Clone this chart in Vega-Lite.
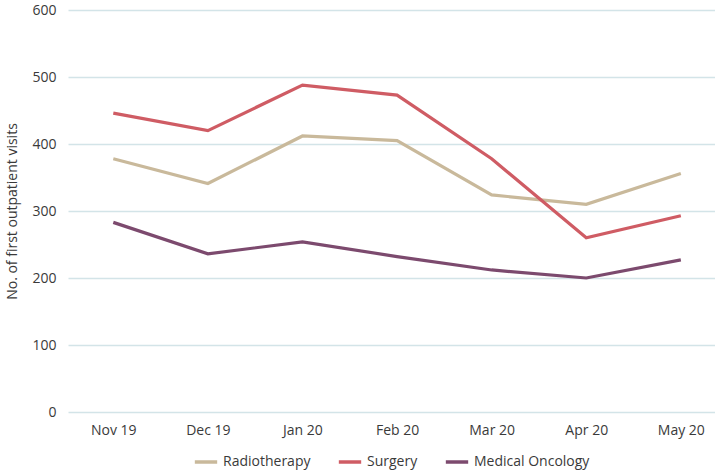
{
  "$schema": "https://vega.github.io/schema/vega-lite/v6.json",
  "width": 715,
  "height": 475,
  "autosize": {"type": "fit", "contains": "padding"},
  "padding": {"left": 5, "top": 3, "right": 0, "bottom": 6},
  "background": "white",
  "config": {
    "font": "Open Sans",
    "view": {"stroke": null},
    "legend": {"layout": {"bottom": {"anchor": "middle"}}}
  },
  "data": {
    "values": [
      {"month": "Nov 19", "series": "Radiotherapy", "value": 378},
      {"month": "Dec 19", "series": "Radiotherapy", "value": 341},
      {"month": "Jan 20", "series": "Radiotherapy", "value": 412},
      {"month": "Feb 20", "series": "Radiotherapy", "value": 405},
      {"month": "Mar 20", "series": "Radiotherapy", "value": 324},
      {"month": "Apr 20", "series": "Radiotherapy", "value": 310},
      {"month": "May 20", "series": "Radiotherapy", "value": 356},
      {"month": "Nov 19", "series": "Surgery", "value": 446},
      {"month": "Dec 19", "series": "Surgery", "value": 420},
      {"month": "Jan 20", "series": "Surgery", "value": 488},
      {"month": "Feb 20", "series": "Surgery", "value": 473},
      {"month": "Mar 20", "series": "Surgery", "value": 378},
      {"month": "Apr 20", "series": "Surgery", "value": 260},
      {"month": "May 20", "series": "Surgery", "value": 293},
      {"month": "Nov 19", "series": "Medical Oncology", "value": 283},
      {"month": "Dec 19", "series": "Medical Oncology", "value": 236},
      {"month": "Jan 20", "series": "Medical Oncology", "value": 254},
      {"month": "Feb 20", "series": "Medical Oncology", "value": 232},
      {"month": "Mar 20", "series": "Medical Oncology", "value": 212},
      {"month": "Apr 20", "series": "Medical Oncology", "value": 200},
      {"month": "May 20", "series": "Medical Oncology", "value": 227}
    ]
  },
  "mark": {"type": "line", "strokeWidth": 3.2},
  "encoding": {
    "x": {
      "field": "month",
      "type": "ordinal",
      "sort": ["Nov 19", "Dec 19", "Jan 20", "Feb 20", "Mar 20", "Apr 20", "May 20"],
      "scale": {"type": "point", "padding": 0.42, "align": 0.57},
      "axis": {
        "title": null,
        "labelAngle": 0,
        "domain": false,
        "ticks": false,
        "grid": false,
        "labelFontSize": 14,
        "labelColor": "#3a3a3a",
        "labelPadding": 11
      }
    },
    "y": {
      "field": "value",
      "type": "quantitative",
      "scale": {"domain": [0, 600]},
      "axis": {
        "title": "No. of first outpatient visits",
        "titleFontSize": 14,
        "titleFontWeight": "normal",
        "titleColor": "#3a3a3a",
        "titlePadding": 12,
        "values": [0, 100, 200, 300, 400, 500, 600],
        "domain": false,
        "ticks": false,
        "labelFontSize": 14,
        "labelColor": "#3a3a3a",
        "labelPadding": 12,
        "gridColor": "#d3e4e8",
        "gridWidth": 1.3
      }
    },
    "color": {
      "field": "series",
      "type": "nominal",
      "sort": ["Radiotherapy", "Surgery", "Medical Oncology"],
      "scale": {
        "domain": ["Radiotherapy", "Surgery", "Medical Oncology"],
        "range": ["#c9b99b", "#cf5c64", "#7c4a6e"]
      },
      "legend": {
        "title": null,
        "orient": "bottom",
        "direction": "horizontal",
        "symbolType": "stroke",
        "symbolStrokeWidth": 3.5,
        "symbolSize": 500,
        "labelFontSize": 14,
        "labelColor": "#3a3a3a",
        "columnPadding": 20,
        "offset": 12
      }
    }
  }
}
